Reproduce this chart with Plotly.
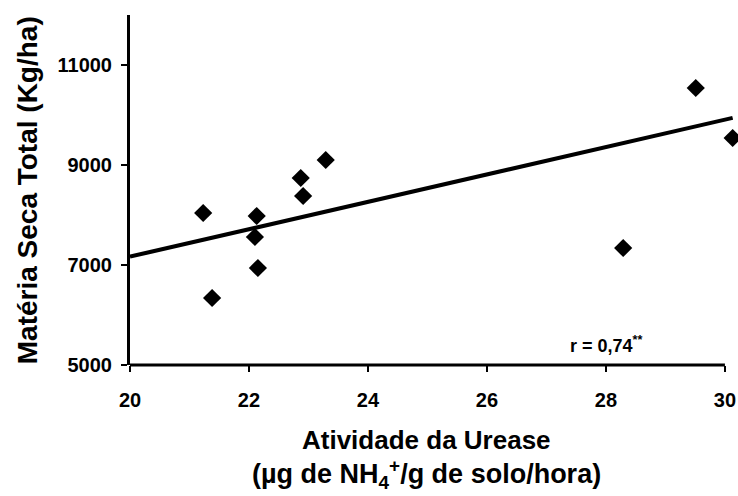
import plotly.graph_objects as go

# Data
urease = [21.23, 21.38, 22.13, 22.10, 22.15, 22.87, 22.91, 23.29, 29.51, 28.29, 30.13]
materia_seca = [8040, 6340, 7980, 7560, 6940, 8740, 8380, 9100, 10540, 7340, 9540]

fit_x = [20.0, 30.13]
fit_y = [7167, 9943]

x_ticks = [20, 22, 24, 26, 28, 30]
y_ticks = [5000, 7000, 9000, 11000]

FONT = "Liberation Sans, Arial, sans-serif"

fig = go.Figure()
fig.add_trace(go.Scatter(x=fit_x, y=fit_y, mode="lines",
                         line=dict(color="black", width=4),
                         showlegend=False, hoverinfo="skip"))
fig.add_trace(go.Scatter(x=urease, y=materia_seca, mode="markers",
                         marker=dict(symbol="diamond", size=14, color="black"),
                         cliponaxis=False, showlegend=False))

fig.update_layout(
    width=738, height=496,
    margin=dict(l=130, r=0, t=15, b=131),
    paper_bgcolor="white", plot_bgcolor="white",
    font=dict(family=FONT, color="black"),
    xaxis=dict(range=[20, 30.22], tickvals=x_ticks, ticktext=[str(v) for v in x_ticks],
               automargin=False,
               showgrid=False, zeroline=False, showline=False,
               ticks="outside", ticklen=6, tickwidth=2, tickcolor="black",
               ticklabelstandoff=11,
               tickfont=dict(size=20, family=FONT, weight="bold")),
    yaxis=dict(range=[5000, 12000], tickvals=y_ticks, ticktext=[str(v) for v in y_ticks],
               automargin=False,
               showgrid=False, zeroline=False, showline=True, linecolor="black", linewidth=3,
               ticks="outside", ticklen=6, tickwidth=2, tickcolor="black",
               ticklabelstandoff=5,
               tickfont=dict(size=20, family=FONT, weight="bold")),
)

# x axis line ending at the last tick (30), as in the reference
fig.add_shape(type="line", xref="x", yref="paper", x0=x_ticks[0], x1=x_ticks[-1], y0=0, y1=0,
              line=dict(color="black", width=3))

fig.add_annotation(text="<b>Atividade da Urease</b>", xref="paper", yref="paper",
                   x=0.488, y=-0.214, xanchor="center", yanchor="middle", showarrow=False,
                   font=dict(size=26, family=FONT))
fig.add_annotation(text="<b>(µg de NH<sub>4</sub><sup>+</sup>/g de solo/hora)</b>",
                   xref="paper", yref="paper",
                   x=0.488, y=-0.312, xanchor="center", yanchor="middle", showarrow=False,
                   font=dict(size=27, family=FONT))
fig.add_annotation(text="<b>Matéria Seca Total (Kg/ha)</b>", xref="paper", yref="paper",
                   x=-0.169, y=0.5, xanchor="center", yanchor="middle", showarrow=False,
                   textangle=-90, font=dict(size=28, family=FONT))
fig.add_annotation(text="<b>r = 0,74<sup>**</sup></b>", xref="x", yref="y",
                   x=28.0, y=5420, xanchor="center", yanchor="middle", showarrow=False,
                   font=dict(size=18, family=FONT))

fig.write_html("out.html")
